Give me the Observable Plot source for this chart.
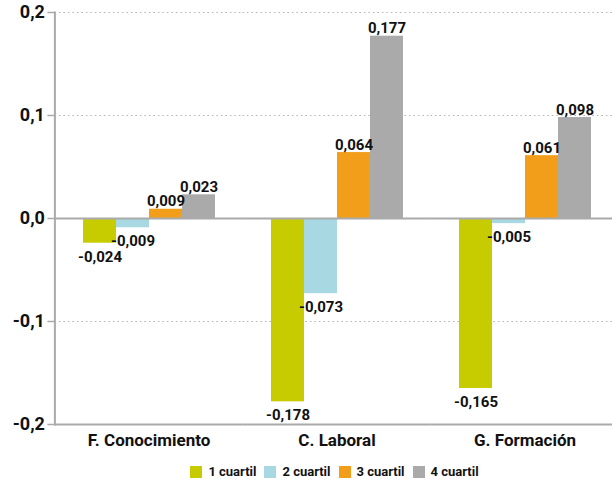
<!DOCTYPE html>
<html>
<head>
<meta charset="utf-8">
<script src="https://cdn.jsdelivr.net/npm/d3@7"></script>
<script src="https://cdn.jsdelivr.net/npm/@observablehq/plot@0.6"></script>
<style>
  html, body { margin: 0; padding: 0; background: #fff; overflow: hidden; }
  body { width: 612px; font-family: Roboto, "Liberation Sans", sans-serif; }
  #chart svg { display: block; overflow: visible; }
  .legend { display: flex; justify-content: center; align-items: center; padding-left: 57px; gap: 8px;
            font-size: 13px; font-weight: 700; color: #111; margin-top: 9px; }
  .legend .item { display: flex; align-items: center; gap: 6px; }
  .legend .sw { width: 12px; height: 12px; display: inline-block; }
</style>
</head>
<body>
<div id="chart"></div>
<script>
// Categories and series
const groups = ["F. Conocimiento", "C. Laboral", "G. Formación"];
const quartiles = ["1 cuartil", "2 cuartil", "3 cuartil", "4 cuartil"];
const q1 = [-0.024, -0.178, -0.165];
const q2 = [-0.009, -0.073, -0.005];
const q3 = [0.009, 0.064, 0.061];
const q4 = [0.023, 0.177, 0.098];
const colors = ["#c6cc00", "#a8d9e2", "#f39e1a", "#aaaaaa"];
const yTicks = [-0.2, -0.1, 0, 0.1, 0.2];
const dottedTicks = [0.2, 0.1, -0.1];

const series = [q1, q2, q3, q4];
const rows = [];
groups.forEach((g, gi) => {
  quartiles.forEach((q, qi) => rows.push({group: g, quartile: q, value: series[qi][gi]}));
});

// Spanish decimal comma, plain hyphen for negatives
const comma = (fmt) => (v) => d3.format(fmt)(v).replace("−", "-").replace(".", ",");
const fmtTick = comma(".1f");
const fmtValue = comma(".3f");

const gray = "#aaaaaa";
const width = 612, marginLeft = 54, marginRight = -7;
const padInner = 0.293, padOuter = padInner / 2;
// half the gap between facets: lets horizontal rules run across the whole frame
const step = (width - marginLeft - marginRight) / (groups.length - padInner + 2 * padOuter);
const halfGap = -step * padInner / 2;

const chart = Plot.plot({
  width,
  height: 455,
  marginLeft,
  marginRight,
  marginTop: 12,
  marginBottom: 31,
  style: {fontFamily: "Roboto, sans-serif", fontWeight: "bold", color: "#111", background: "#fff"},
  fx: {domain: groups, paddingInner: padInner, paddingOuter: padOuter, label: null, axis: null},
  x: {domain: quartiles, padding: 0, axis: null},
  y: {domain: [-0.2, 0.2], axis: null},
  color: {domain: quartiles, range: colors},
  marks: [
    Plot.ruleY(dottedTicks, {insetLeft: halfGap, insetRight: halfGap, stroke: "#b3b3b3", strokeWidth: 1.2, strokeDasharray: "1.5,3"}),
    Plot.barY(rows, {fx: "group", x: "quartile", y: "value", fill: "quartile"}),
    Plot.ruleY([0, -0.2], {insetLeft: halfGap, insetRight: halfGap, stroke: gray, strokeWidth: 2}),
    Plot.frame({anchor: "left", facetAnchor: "left", insetLeft: halfGap, stroke: gray, strokeWidth: 2}),
    Plot.axisY({
      ticks: yTicks, tickFormat: fmtTick, tickSize: 7, tickPadding: 3, dx: halfGap,
      stroke: gray, strokeWidth: 1.5, fontSize: 18, fontWeight: "bold", label: null
    }),
    Plot.axisFx({
      anchor: "bottom", tickSize: 0, tickPadding: 9, fontSize: 17, fontWeight: "bold", label: null
    }),
    Plot.text(rows.filter(d => d.value >= 0), {
      fx: "group", x: "quartile", y: "value", text: d => fmtValue(d.value),
      lineAnchor: "bottom", dy: -3, fontSize: 15, fontWeight: "bold", fill: "#111"
    }),
    Plot.text(rows.filter(d => d.value < 0), {
      fx: "group", x: "quartile", y: "value", text: d => fmtValue(d.value),
      lineAnchor: "top", dy: 8, fontSize: 15, fontWeight: "bold", fill: "#111"
    })
  ]
});
document.getElementById("chart").append(chart);

// Legend below the chart
const legend = document.createElement("div");
legend.className = "legend";
quartiles.forEach((q, i) => {
  const item = document.createElement("span");
  item.className = "item";
  const sw = document.createElement("span");
  sw.className = "sw";
  sw.style.background = colors[i];
  const label = document.createElement("span");
  label.textContent = q;
  item.append(sw, label);
  legend.append(item);
});
document.body.append(legend);
</script>
</body>
</html>
